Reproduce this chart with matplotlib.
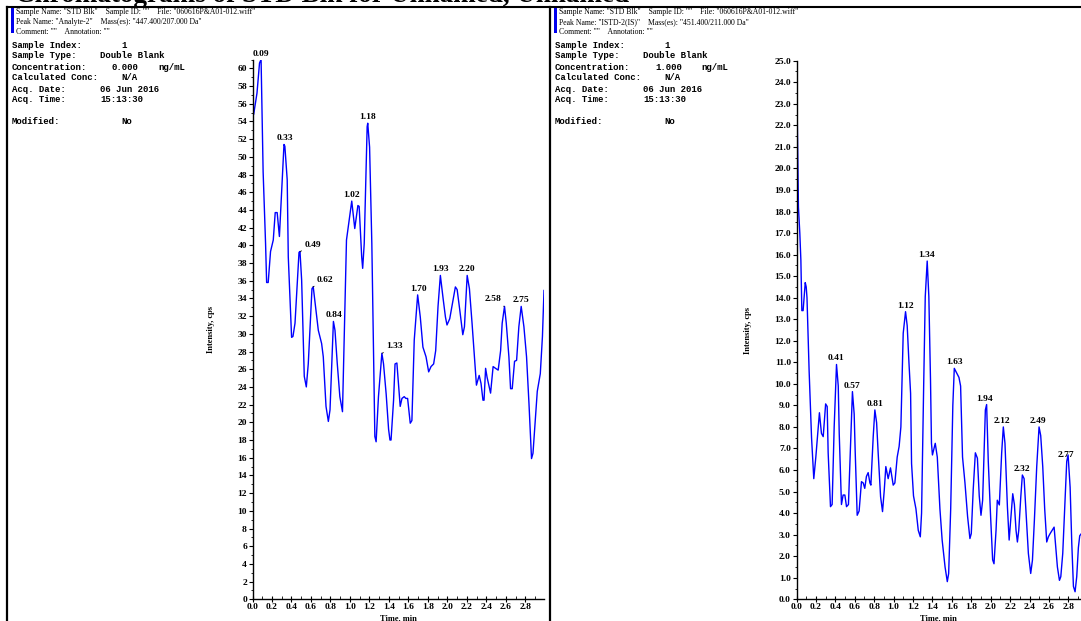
import matplotlib
matplotlib.use("Agg")
import numpy as np
import matplotlib.pyplot as plt
from matplotlib.ticker import MultipleLocator, FormatStrFormatter
from matplotlib.lines import Line2D
from matplotlib.patches import Rectangle

# Analyte-2 trace (time in min, intensity in cps)
an_time = [0.000, 0.012, 0.046, 0.072, 0.088, 0.109, 0.134, 0.145, 0.161, 0.185,
           0.213, 0.233, 0.253, 0.276, 0.323, 0.332, 0.356, 0.367, 0.401, 0.415,
           0.436, 0.477, 0.487, 0.504, 0.531, 0.552, 0.572, 0.610, 0.623, 0.651,
           0.675, 0.709, 0.726, 0.754, 0.778, 0.795, 0.830, 0.846, 0.869, 0.896,
           0.923, 0.964, 1.018, 1.049, 1.081, 1.094, 1.120, 1.130, 1.146, 1.176,
           1.182, 1.201, 1.224, 1.255, 1.268, 1.292, 1.327, 1.344, 1.371, 1.396,
           1.410, 1.421, 1.447, 1.462, 1.481, 1.515, 1.533, 1.556, 1.573, 1.591,
           1.618, 1.635, 1.659, 1.694, 1.721, 1.748, 1.780, 1.807, 1.831, 1.858,
           1.879, 1.903, 1.927, 1.955, 1.979, 1.995, 2.023, 2.050, 2.081, 2.099,
           2.126, 2.157, 2.174, 2.202, 2.225, 2.252, 2.276, 2.297, 2.325, 2.344,
           2.364, 2.375, 2.391, 2.406, 2.442, 2.468, 2.493, 2.520, 2.545, 2.561,
           2.585, 2.603, 2.630, 2.647, 2.664, 2.688, 2.709, 2.732, 2.756, 2.784,
           2.811, 2.836, 2.862, 2.877, 2.897, 2.921, 2.952, 2.974, 2.990]
an_int = [54.8, 54.8, 57.2, 60.6, 61.0, 48.3, 40.2, 35.8, 35.8, 39.3,
          40.6, 43.7, 43.7, 41.0, 51.4, 51.2, 47.4, 38.7, 29.6, 29.7,
          31.2, 39.2, 39.3, 36.1, 25.2, 24.0, 26.6, 35.1, 35.3, 32.7,
          30.4, 28.9, 27.4, 21.8, 20.1, 21.4, 31.4, 30.4, 26.7, 22.9,
          21.2, 40.6, 45.0, 41.9, 44.5, 44.4, 38.7, 37.4, 40.2, 53.4,
          53.8, 51.1, 40.2, 18.4, 17.8, 22.9, 27.8, 26.6, 23.2, 19.2,
          18.0, 18.0, 22.5, 26.6, 26.7, 21.8, 22.7, 22.9, 22.7, 22.7,
          19.9, 20.2, 29.3, 34.4, 31.9, 28.5, 27.4, 25.7, 26.3, 26.6,
          28.1, 33.1, 36.6, 34.0, 31.9, 31.0, 31.7, 33.4, 35.3, 35.0,
          32.7, 29.9, 30.8, 36.6, 35.1, 31.2, 27.4, 24.2, 25.3, 24.4,
          22.5, 22.5, 26.1, 25.1, 23.3, 26.3, 26.1, 25.9, 28.1, 31.2,
          33.1, 31.2, 27.4, 23.8, 23.8, 26.9, 27.0, 30.8, 33.1, 30.8,
          27.4, 22.1, 15.9, 16.5, 19.7, 23.5, 25.5, 29.7, 34.9]
an_peaks = ["0.09", "0.33", "0.49", "0.62", "0.84", "1.02", "1.18", "1.33",
            "1.70", "1.93", "2.20", "2.58", "2.75"]

# ISTD-2(IS) trace
is_time = [0.000, 0.004, 0.010, 0.020, 0.034, 0.045, 0.055, 0.068, 0.090, 0.100,
           0.108, 0.130, 0.155, 0.178, 0.199, 0.226, 0.236, 0.257, 0.275, 0.300,
           0.316, 0.326, 0.350, 0.367, 0.388, 0.412, 0.430, 0.440, 0.463, 0.480,
           0.498, 0.515, 0.535, 0.560, 0.576, 0.594, 0.604, 0.625, 0.645, 0.669,
           0.687, 0.703, 0.720, 0.738, 0.756, 0.766, 0.790, 0.807, 0.825, 0.841,
           0.866, 0.886, 0.904, 0.920, 0.944, 0.968, 0.996, 1.013, 1.037, 1.057,
           1.075, 1.099, 1.123, 1.140, 1.158, 1.175, 1.185, 1.205, 1.230, 1.254,
           1.275, 1.288, 1.310, 1.326, 1.346, 1.363, 1.380, 1.390, 1.400, 1.429,
           1.450, 1.477, 1.500, 1.530, 1.553, 1.567, 1.588, 1.610, 1.625, 1.650,
           1.673, 1.690, 1.710, 1.735, 1.762, 1.786, 1.800, 1.820, 1.842, 1.863,
           1.882, 1.900, 1.917, 1.945, 1.958, 1.975, 1.999, 2.020, 2.034, 2.055,
           2.068, 2.089, 2.113, 2.130, 2.147, 2.172, 2.190, 2.206, 2.227, 2.244,
           2.261, 2.275, 2.289, 2.310, 2.326, 2.344, 2.364, 2.388, 2.412, 2.430,
           2.450, 2.474, 2.498, 2.515, 2.536, 2.556, 2.577, 2.594, 2.612, 2.632,
           2.653, 2.670, 2.687, 2.708, 2.722, 2.742, 2.760, 2.783, 2.797, 2.818,
           2.835, 2.852, 2.869, 2.886, 2.903, 2.917, 2.934]
is_int = [25.0, 23.6, 21.8, 18.2, 17.0, 15.75, 13.4, 13.4, 14.7, 14.5,
          14.0, 10.6, 7.5, 5.6, 6.6, 8.1, 8.66, 7.7, 7.55, 9.07,
          8.95, 6.8, 4.3, 4.4, 8.0, 10.9, 9.9, 7.7, 4.4, 4.84,
          4.84, 4.3, 4.4, 7.55, 9.64, 8.6, 6.93, 3.9, 4.1, 5.46,
          5.4, 5.15, 5.7, 5.88, 5.4, 5.3, 7.55, 8.79, 8.2, 6.8,
          4.76, 4.07, 5.08, 6.16, 5.6, 6.1, 5.3, 5.4, 6.6, 7.1,
          8.0, 12.35, 13.35, 12.7, 11.0, 9.56, 6.3, 4.8, 4.2, 3.2,
          2.9, 4.0, 10.0, 14.05, 15.7, 14.05, 10.2, 7.24, 6.7, 7.24,
          6.6, 4.2, 2.75, 1.5, 0.82, 1.2, 4.2, 9.0, 10.72, 10.5,
          10.3, 9.9, 6.6, 5.4, 3.84, 2.82, 3.05, 5.1, 6.8, 6.55,
          4.8, 3.9, 4.6, 8.79, 9.04, 6.4, 3.84, 1.83, 1.65, 3.2,
          4.6, 4.38, 6.8, 8.0, 7.24, 4.3, 2.75, 3.7, 4.9, 4.4,
          3.2, 2.66, 3.2, 4.76, 5.77, 5.6, 4.0, 2.13, 1.2, 1.82,
          3.68, 6.16, 8.0, 7.6, 6.16, 4.2, 2.66, 2.9, 3.05, 3.2,
          3.35, 2.4, 1.5, 0.88, 1.05, 2.13, 4.0, 6.4, 6.7, 5.2,
          2.6, 0.6, 0.35, 1.05, 2.4, 2.95, 3.05]
is_peaks = ["0.41", "0.57", "0.81", "1.12", "1.34", "1.63", "1.94", "2.12",
            "2.32", "2.49", "2.77"]

info_keys = ["Sample Index:", "Sample Type:", "Concentration:", "Calculated Conc:",
             "Acq. Date:", "Acq. Time:", "Modified:"]
an_info = ["1", "Double Blank", "0.000", "N/A", "06 Jun 2016", "15:13:30", "No"]
is_info = ["1", "Double Blank", "1.000", "N/A", "06 Jun 2016", "15:13:30", "No"]
an_header = ['Sample Name: "STD Blk"    Sample ID: ""    File: "060616P&A01-012.wiff"',
             'Peak Name: "Analyte-2"    Mass(es): "447.400/207.000 Da"',
             'Comment: ""    Annotation: ""']
is_header = ['Sample Name: "STD Blk"    Sample ID: ""    File: "060616P&A01-012.wiff"',
             'Peak Name: "ISTD-2(IS)"    Mass(es): "451.400/211.000 Da"',
             'Comment: ""    Annotation: ""']
title = "Chromatograms of STD Blk for Unnamed, Unnamed"

W, H = 1081, 621
fig = plt.figure(figsize=(W / 100, H / 100), dpi=100)
fig.patch.set_facecolor("white")


def fx(x):
    return x / W


def fy(y):
    return 1 - y / H


SERIF = "Liberation Serif"
MONO = "Liberation Mono"

# page title, mostly cut off at the top edge
fig.text(fx(15), fy(1.5), title, fontsize=19.5, fontweight="bold", family=SERIF,
         va="baseline", ha="left")

# panel frames
fig.add_artist(Line2D([fx(7), 1], [fy(7), fy(7)], color="black", lw=1.5))
for xl in (7, 550):
    fig.add_artist(Line2D([fx(xl), fx(xl)], [fy(7), 0], color="black", lw=1.6))


def info_block(x0, header, values, conc_unit=True):
    fig.add_artist(Rectangle((fx(x0 + 4), fy(33)), 3 / W, 25 / H,
                             color="#0000EE", lw=0))
    for i, line in enumerate(header):
        fig.text(fx(x0 + 9), fy(12 + 10 * i), line, fontsize=5.6, family=SERIF,
                 va="center", ha="left")
    rows = [45, 56, 67, 78, 89, 99, 121]
    cols = [114, 93, 105, 114, 93, 93, 114]
    for key, val, r, c in zip(info_keys, values, rows, cols):
        fig.text(fx(x0 + 5), fy(r), key, fontsize=6.5, family=MONO,
                 fontweight="bold", va="center", ha="left")
        fig.text(fx(x0 + c), fy(r), val, fontsize=6.5, family=MONO,
                 fontweight="bold", va="center", ha="left")
    if conc_unit:
        fig.text(fx(x0 + 151), fy(67), "ng/mL", fontsize=6.5, family=MONO,
                 fontweight="bold", va="center", ha="left")


info_block(7, an_header, an_info)
info_block(550, is_header, is_info)

BLUE = "#0000FF"


def setup_axes(ax, ymax, ymajor, yminor, yfmt, xmax):
    ax.set_xlim(0, xmax)
    ax.set_ylim(0, ymax)
    for s in ("top", "right"):
        ax.spines[s].set_visible(False)
    for s in ("left", "bottom"):
        ax.spines[s].set_linewidth(1.0)
    ax.xaxis.set_major_locator(MultipleLocator(0.2))
    ax.xaxis.set_minor_locator(MultipleLocator(0.1))
    ax.xaxis.set_major_formatter(FormatStrFormatter("%.1f"))
    ax.yaxis.set_major_locator(MultipleLocator(ymajor))
    ax.yaxis.set_minor_locator(MultipleLocator(yminor))
    ax.yaxis.set_major_formatter(FormatStrFormatter(yfmt))
    ax.tick_params(axis="y", which="major", direction="out", length=3, width=0.8, pad=1)
    ax.tick_params(axis="y", which="minor", direction="out", length=1.5, width=0.6)
    ax.tick_params(axis="x", which="major", direction="inout", length=4, width=0.8, pad=1)
    ax.tick_params(axis="x", which="minor", direction="in", length=2, width=0.6)
    for lab in ax.get_xticklabels() + ax.get_yticklabels():
        lab.set_fontfamily(SERIF)
        lab.set_fontweight("bold")
        lab.set_fontsize(6.8)
    ax.set_xlabel("Time, min", fontsize=6, family=SERIF, fontweight="bold", labelpad=2)
    ax.set_ylabel("Intensity, cps", fontsize=6, family=SERIF, fontweight="bold", labelpad=16)


def label_peaks(ax, t, v, labels, leaders):
    t = np.asarray(t)
    v = np.asarray(v)
    for lab in labels:
        lt = float(lab)
        near = np.where(np.abs(t - lt) <= 0.025)[0]
        i = near[np.argmax(v[near])]
        kw = dict(fontsize=6.8, family=SERIF, fontweight="bold",
                  textcoords="offset pixels", annotation_clip=False)
        if lab in leaders:
            dx, dy, ha = leaders[lab]
            ax.annotate(lab, xy=(lt, v[i]), xytext=(dx, dy), ha=ha, va="bottom",
                        arrowprops=dict(arrowstyle="-", lw=0.6, color="black",
                                        shrinkA=0, shrinkB=0), **kw)
        else:
            ax.annotate(lab, xy=(lt, v[i]), xytext=(0, 2), ha="center",
                        va="bottom", **kw)


ax1 = fig.add_axes([fx(252.5), fy(599.3), 291.5 / W, (599.3 - 59.5) / H])
ax1.plot(an_time, an_int, color=BLUE, lw=1.0)
setup_axes(ax1, 61.0, 2, 1, "%d", 2.99)
label_peaks(ax1, an_time, an_int, an_peaks,
            {"0.49": (4, 3, "left"), "0.62": (4, 3, "left"),
             "1.33": (4, 3, "left"), "2.58": (-3, 3, "right")})

ax2 = fig.add_axes([fx(796.5), fy(599.3), 284.5 / W, (599.3 - 60.7) / H])
ax2.plot(is_time, is_int, color=BLUE, lw=1.0)
setup_axes(ax2, 25.0, 1.0, 0.5, "%.1f", 2.93)
label_peaks(ax2, is_time, is_int, is_peaks, {})

fig.savefig("out.png", dpi=100)
